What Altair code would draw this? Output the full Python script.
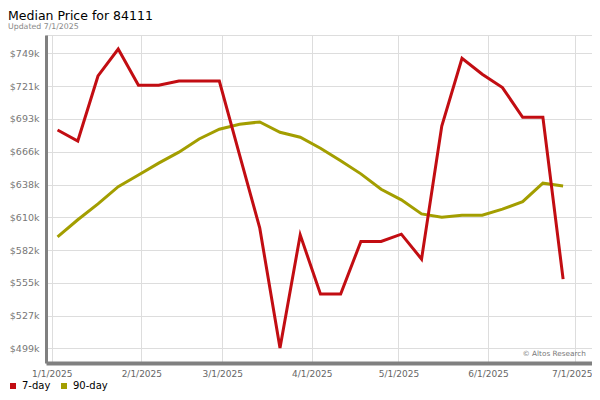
import altair as alt
import pandas as pd

dates = ["2025-01-03", "2025-01-10", "2025-01-17", "2025-01-24", "2025-01-31",
         "2025-02-07", "2025-02-14", "2025-02-21", "2025-02-28",
         "2025-03-07", "2025-03-14", "2025-03-21", "2025-03-28",
         "2025-04-04", "2025-04-11", "2025-04-18", "2025-04-25",
         "2025-05-02", "2025-05-09", "2025-05-16", "2025-05-23", "2025-05-30",
         "2025-06-06", "2025-06-13", "2025-06-20", "2025-06-27"]

seven_day = [684100, 674800, 729900, 752700, 722000, 722000, 725600, 725600, 725600,
             663000, 600900, 499300, 595200, 545000, 545000, 589600, 589600,
             595800, 574700, 687500, 744900, 731300, 720000, 694900, 694900, 557700]

ninety_day = [593500, 608000, 621500, 636100, 646000, 656000, 665300, 676500, 684700,
              689000, 690900, 682200, 678000, 668600, 658100, 646900, 633900,
              624900, 613000, 610200, 611900, 611900, 617000, 623400, 639000, 636700]

series_names = ["7-day", "90-day"]
series_colors = ["#c20d12", "#a39e00"]

y_ticks = [499000 + k * 250000 / 9 for k in range(10)]
x_ticks = [alt.DateTime(year=2025, month=m, date=1) for m in range(1, 8)]

dates_local = [d + "T00:00:00" for d in dates]
df7 = pd.DataFrame({"date": dates_local, "price": seven_day, "series": series_names[0]})
df90 = pd.DataFrame({"date": dates_local, "price": ninety_day, "series": series_names[1]})

FONT = "DejaVu Sans"

x_enc = alt.X("date:T",
              scale=alt.Scale(domain=[alt.DateTime(year=2024, month=12, date=30),
                                      alt.DateTime(year=2025, month=7, date=7)]),
              axis=alt.Axis(values=x_ticks, format="%-m/%-d/%Y", title=None,
                            labelFontSize=9, labelColor="#666666", labelFont=FONT,
                            ticks=False, labelPadding=6, domainColor="#808080",
                            domainWidth=4, gridColor="#dddddd", labelFlush=False,
                            labelOffset={"condition": {"test": "month(datum.value) == 6",
                                                       "value": -3}, "value": 0}))
y_enc = alt.Y("price:Q",
              scale=alt.Scale(domain=[486600, 764600], nice=False, zero=False),
              axis=alt.Axis(values=y_ticks,
                            labelExpr="'$' + format(datum.value / 1000, '.0f') + 'k'",
                            title=None, labelFontSize=9.5, labelColor="#777777",
                            labelFont=FONT, ticks=False, labelPadding=7,
                            domainColor="#808080", domainWidth=3,
                            gridColor="#dddddd"))
color_enc = alt.Color("series:N",
                      scale=alt.Scale(domain=series_names, range=series_colors),
                      legend=alt.Legend(orient="none", legendX=-38, legendY=346,
                                        direction="horizontal", title=None,
                                        symbolType="square", symbolSize=4,
                                        symbolStrokeWidth=4, labelFontSize=10,
                                        labelFont=FONT, labelColor="#000000",
                                        columnPadding=4, labelOffset=4))

green = alt.Chart(df90).mark_line(strokeWidth=3).encode(x=x_enc, y=y_enc, color=color_enc)
red = alt.Chart(df7).mark_line(strokeWidth=3).encode(x=x_enc, y=y_enc, color=color_enc)

wm = alt.Chart(pd.DataFrame({"t": ["© Altos Research"]})).mark_text(
    align="right", baseline="middle", fontSize=7.3, color="#777777", font=FONT
).encode(text="t:N", x=alt.value(540), y=alt.value(319))

chart = alt.layer(green, red, wm).properties(
    width=546, height=328,
    autosize=alt.AutoSizeParams(type="none"),
    padding={"left": 38, "top": 27, "right": 0, "bottom": 29},
    title=alt.TitleParams("Median Price for 84111", subtitle="Updated 7/1/2025",
                          anchor="start", frame="group", dx=-38, offset=4,
                          fontSize=12.5, font=FONT, fontWeight="normal", color="#000000",
                          subtitleFontSize=7.8, subtitleFont=FONT, subtitleColor="#888888",
                          subtitlePadding=1)
).configure_view(stroke="#dddddd", strokeWidth=1).configure_axis(gridWidth=1)

chart.save("out.html", embed_options={"renderer": "svg", "actions": False})
